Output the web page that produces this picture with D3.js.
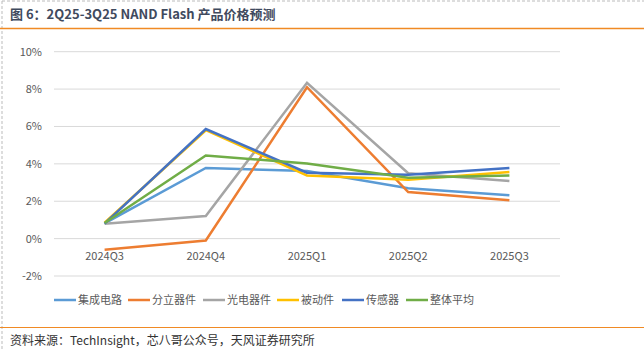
<!DOCTYPE html>
<html>
<head>
<meta charset="utf-8">
<script src="https://cdn.jsdelivr.net/npm/d3@7"></script>
<style>
  body { margin: 0; background: #fff; }
  text { font-family: "Noto Sans CJK SC", "Noto Sans", sans-serif; }
</style>
</head>
<body>
<div id="chart"></div>
<script>
// categories and series (percent)
const quarters = ["2024Q3", "2024Q4", "2025Q1", "2025Q2", "2025Q3"];
const seriesNames = ["集成电路", "分立器件", "光电器件", "被动件", "传感器", "整体平均"];
const icValues = [0.82, 3.78, 3.62, 2.70, 2.32];
const discreteValues = [-0.6, -0.1, 8.1, 2.49, 2.05];
const optoValues = [0.8, 1.21, 8.34, 3.5, 3.08];
const passiveValues = [0.85, 5.8, 3.38, 3.15, 3.56];
const sensorValues = [0.8, 5.86, 3.53, 3.42, 3.78];
const averageValues = [0.84, 4.45, 4.02, 3.26, 3.38];
const yTicks = [-2, 0, 2, 4, 6, 8, 10];

const colors = ["#5B9BD5", "#ED7D31", "#A5A5A5", "#FFC000", "#4472C4", "#70AD47"];
const allValues = [icValues, discreteValues, optoValues, passiveValues, sensorValues, averageValues];

const width = 644, height = 351;
const svg = d3.select("#chart").append("svg")
    .attr("width", width)
    .attr("height", height);

// dashed frame top/left
svg.append("line").attr("x1", 2).attr("x2", width).attr("y1", 1).attr("y2", 1)
    .attr("stroke", "#bbb").attr("stroke-dasharray", "3,2");
svg.append("line").attr("x1", 2).attr("x2", 2).attr("y1", 1).attr("y2", height)
    .attr("stroke", "#bbb").attr("stroke-dasharray", "3,2");

// title
svg.append("text")
    .attr("x", 10).attr("y", 19)
    .attr("font-size", 13).attr("font-weight", "bold")
    .attr("fill", "#3f4a5e")
    .text("图 6：2Q25-3Q25 NAND Flash 产品价格预测");
svg.append("line").attr("x1", 0).attr("x2", width).attr("y1", 28.5).attr("y2", 28.5)
    .attr("stroke", "#F08A24").attr("stroke-width", 1.5);

// scales
const x = d3.scaleBand().domain(quarters).range([54, 560]);
const y = d3.scaleLinear().domain([-2, 10]).range([276, 51.7]);

// gridlines
svg.append("g").selectAll("line")
    .data(yTicks)
    .join("line")
    .attr("x1", 54).attr("x2", 560)
    .attr("y1", d => y(d)).attr("y2", d => y(d))
    .attr("stroke", "#d9d9d9").attr("stroke-width", 1);

// y tick labels
svg.append("g").selectAll("text")
    .data(yTicks)
    .join("text")
    .attr("x", 42).attr("y", d => y(d) + 4)
    .attr("text-anchor", "end")
    .attr("font-size", 11).attr("fill", "#595959")
    .text(d => d + "%");

// x labels
svg.append("g").selectAll("text")
    .data(quarters)
    .join("text")
    .attr("x", d => x(d) + x.bandwidth() / 2)
    .attr("y", 260)
    .attr("text-anchor", "middle")
    .attr("font-size", 11).attr("fill", "#595959")
    .text(d => d);

// lines
const line = d3.line()
    .x((d, i) => x(quarters[i]) + x.bandwidth() / 2)
    .y(d => y(d));

svg.append("g").selectAll("path")
    .data(allValues)
    .join("path")
    .attr("d", d => line(d))
    .attr("fill", "none")
    .attr("stroke", (d, i) => colors[i])
    .attr("stroke-width", 2.5)
    .attr("stroke-linejoin", "miter");

// legend
const legendX = [54, 128, 203, 277, 342, 406];
const legend = svg.append("g").selectAll("g")
    .data(seriesNames)
    .join("g")
    .attr("transform", (d, i) => `translate(${legendX[i]},300)`);
legend.append("line")
    .attr("x1", 0).attr("x2", 22)
    .attr("stroke", (d, i) => colors[i]).attr("stroke-width", 2.5);
legend.append("text")
    .attr("x", 24).attr("y", 4)
    .attr("font-size", 11).attr("fill", "#595959")
    .text(d => d);

// footer
svg.append("line").attr("x1", 0).attr("x2", width).attr("y1", 327.5).attr("y2", 327.5)
    .attr("stroke", "#F08A24").attr("stroke-width", 1.2);
svg.append("text")
    .attr("x", 10).attr("y", 345)
    .attr("font-size", 12).attr("fill", "#333")
    .text("资料来源：TechInsight，芯八哥公众号，天风证券研究所");
</script>
</body>
</html>
